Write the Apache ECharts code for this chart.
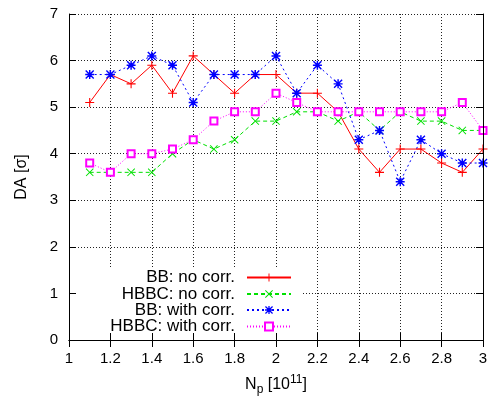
<!DOCTYPE html>
<html>
<head>
<meta charset="utf-8">
<script src="https://cdn.jsdelivr.net/npm/echarts@6/dist/echarts.min.js"></script>
<style>
  html, body { margin: 0; padding: 0; background: #fff; }
  #chart { width: 494px; height: 397px; }
</style>
</head>
<body>
<div id="chart"></div>
<script>
// Bunch intensity N_p [10^11]
const np = [1.1, 1.2, 1.3, 1.4, 1.5, 1.6, 1.7, 1.8, 1.9, 2.0,
            2.1, 2.2, 2.3, 2.4, 2.5, 2.6, 2.7, 2.8, 2.9, 3.0];

// Dynamic aperture [sigma]
const bbNoCorr   = [5.1, 5.7, 5.5, 5.9, 5.3, 6.1, 5.7, 5.3, 5.7, 5.7,
                    5.3, 5.3, 4.9, 4.1, 3.6, 4.1, 4.1, 3.8, 3.6, 4.1];
const hbbcNoCorr = [3.6, 3.6, 3.6, 3.6, 4.0, 4.3, 4.1, 4.3, 4.7, 4.7,
                    4.9, 4.9, 4.7, 4.9, 4.5, 4.9, 4.7, 4.7, 4.5, 4.5];
const bbCorr     = [5.7, 5.7, 5.9, 6.1, 5.9, 5.1, 5.7, 5.7, 5.7, 6.1,
                    5.3, 5.9, 5.5, 4.3, 4.5, 3.4, 4.3, 4.0, 3.8, 3.8];
const hbbcCorr   = [3.8, 3.6, 4.0, 4.0, 4.1, 4.3, 4.7, 4.9, 4.9, 5.3,
                    5.1, 4.9, 4.9, 4.9, 4.9, 4.9, 4.9, 4.9, 5.1, 4.5];

const seriesNames = ['BB: no corr.', 'HBBC: no corr.', 'BB: with corr.', 'HBBC: with corr.'];

const FONT = 'Liberation Sans';

// point symbols
const PLUS = 'path://M4.4,0H5.6V4.4H10V5.6H5.6V10H4.4V5.6H0V4.4H4.4Z';
const CROSS = 'path://M0,0.85L0.85,0L5,4.15L9.15,0L10,0.85L5.85,5L10,9.15L9.15,10L5,5.85L0.85,10L0,9.15L4.15,5Z';
const STAR = 'path://M4.2,0H5.8V4.2H10V5.8H5.8V10H4.2V5.8H0V4.2H4.2Z' +
             'M0,1.1L1.1,0L5,3.9L8.9,0L10,1.1L6.1,5L10,8.9L8.9,10L5,6.1L1.1,10L0,8.9L3.9,5Z';

const pairs = ys => np.map((x, i) => [x, ys[i]]);

function lineSeries(name, ys, color, type, symbol, size) {
  return {
    name: name,
    type: 'line',
    xAxisIndex: 0,
    yAxisIndex: 0,
    data: pairs(ys),
    symbol: symbol,
    symbolSize: size,
    showAllSymbol: true,
    lineStyle: { color: color, width: 1, type: type },
    itemStyle: { color: color, borderColor: color, borderWidth: symbol === 'emptyRect' ? 1 : 0 },
    emphasis: { disabled: true },
    animation: false
  };
}

const series = [
  lineSeries(seriesNames[0], bbNoCorr,   '#ff0000', 'solid',  PLUS, 9),
  lineSeries(seriesNames[1], hbbcNoCorr, '#00e000', [4, 3],   CROSS, 8),
  lineSeries(seriesNames[2], bbCorr,     '#0000ff', [2, 3],   STAR, 9),
  lineSeries(seriesNames[3], hbbcCorr,   '#ff00ff', [1, 2],   'emptyRect', 7)
];

// one legend block per entry so that the labels are right-aligned
const legendRows = [277.5, 294, 310, 326.5];
const legends = seriesNames.map((n, i) => ({
  data: [n],
  orient: 'vertical',
  align: 'right',
  right: 202,
  top: legendRows[i] - 8.5,
  padding: 0,
  itemWidth: 44,
  itemHeight: 10,
  z: 20,
  selectedMode: false,
  textStyle: { fontFamily: FONT, fontSize: 17, color: '#000', lineHeight: 17, padding: [0, 7, 0, 0] }
}));

const gridLine = { show: true, lineStyle: { color: '#222', type: [1, 2], width: 1 } };
const tickInside = { show: true, inside: true, length: 7, lineStyle: { color: '#000', width: 1 } };
const frameLine = { show: true, lineStyle: { color: '#000', width: 1 } };

const xBase = { type: 'value', min: 1, max: 3, interval: 0.2 };
const yBase = { type: 'value', min: 0, max: 7, interval: 1 };

const option = {
  backgroundColor: '#fff',
  animation: false,
  grid: { left: 69, right: 11, top: 14, bottom: 57, containLabel: false, outerBoundsMode: 'none' },
  legend: legends,
  xAxis: [
    Object.assign({}, xBase, {
      position: 'bottom', z: 10,
      axisLine: frameLine, axisTick: tickInside, splitLine: { show: false },
      axisLabel: { fontFamily: FONT, fontSize: 15, color: '#000', margin: 11,
                   formatter: v => String(Math.round(v * 10) / 10) },
      name: '{n|N}{sub|p}{n| [10}{sup|11}{n|]}',
      nameLocation: 'middle', nameGap: 34,
      nameTextStyle: {
        rich: {
          n: { fontFamily: FONT, fontSize: 16, color: '#000', lineHeight: 22, verticalAlign: 'middle' },
          sub: { fontFamily: FONT, fontSize: 12, color: '#000', lineHeight: 22, verticalAlign: 'bottom' },
          sup: { fontFamily: FONT, fontSize: 12, color: '#000', lineHeight: 22, verticalAlign: 'top' }
        }
      }
    }),
    Object.assign({}, xBase, {
      position: 'top', z: 10,
      axisLine: frameLine, axisTick: tickInside, splitLine: { show: false },
      axisLabel: { show: false }
    }),
    Object.assign({}, xBase, {
      position: 'bottom', z: 0,
      axisLine: { show: false }, axisTick: { show: false }, axisLabel: { show: false },
      splitLine: gridLine
    })
  ],
  yAxis: [
    Object.assign({}, yBase, {
      position: 'left', z: 10,
      axisLine: frameLine, axisTick: tickInside, splitLine: { show: false },
      axisLabel: { fontFamily: FONT, fontSize: 15, color: '#000', margin: 11 },
      name: 'DA [σ]', nameLocation: 'middle', nameGap: 39, nameRotate: 90,
      nameTextStyle: { fontFamily: FONT, fontSize: 16, color: '#000' }
    }),
    Object.assign({}, yBase, {
      position: 'right', z: 10,
      axisLine: frameLine, axisTick: tickInside, splitLine: { show: false },
      axisLabel: { show: false }
    }),
    Object.assign({}, yBase, {
      position: 'left', z: 0,
      axisLine: { show: false }, axisTick: { show: false }, axisLabel: { show: false },
      splitLine: gridLine
    })
  ],
  // opaque key box over the grid
  graphic: [{
    type: 'rect', z: 1,
    shape: { x: 77, y: 268, width: 225, height: 72 },
    style: { fill: '#fff' },
    silent: true
  }],
  series: series
};

const chart = echarts.init(document.getElementById('chart'), null, { renderer: 'canvas' });
chart.setOption(option);
</script>
</body>
</html>
